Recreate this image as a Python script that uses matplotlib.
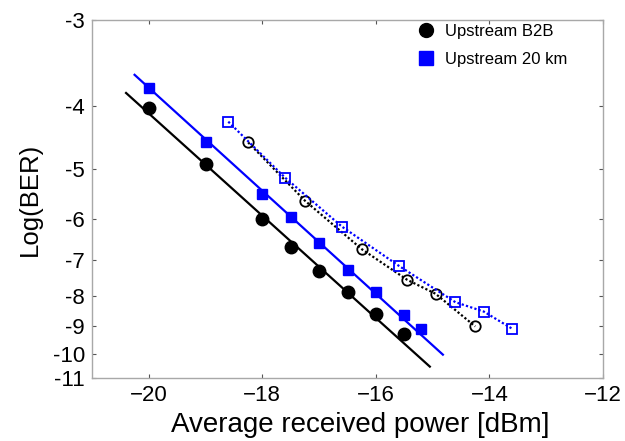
import math
import numpy as np
import matplotlib
matplotlib.use("Agg")
import matplotlib.pyplot as plt
from matplotlib.lines import Line2D
from matplotlib.ticker import NullLocator, FixedLocator, FixedFormatter

plt.rcParams['font.family'] = ['Liberation Sans', 'DejaVu Sans']

# ---- data (log10 BER vs received power in dBm) ----
b2b_x = [-20, -19, -18, -17.5, -17, -16.5, -16, -15.5]
b2b_y = [-4.03, -4.92, -6.0, -6.66, -7.28, -7.89, -8.57, -9.27]
km20_x = [-20, -19, -18, -17.5, -17, -16.5, -16, -15.5, -15.2]
km20_y = [-3.77, -4.54, -5.48, -5.96, -6.56, -7.25, -7.89, -8.6, -9.08]
b2b_fit_x = [-20.4, -15.05]
b2b_fit_y = [-3.83, -10.52]
km20_fit_x = [-20.25, -14.82]
km20_fit_y = [-3.60, -10.04]
b2b_open_x = [-18.25, -17.25, -16.25, -15.45, -14.95, -14.25]
b2b_open_y = [-4.55, -5.61, -6.71, -7.53, -7.94, -9.0]
km20_open_x = [-18.6, -17.6, -16.6, -15.6, -14.6, -14.1, -13.6]
km20_open_y = [-4.23, -5.16, -6.17, -7.14, -8.2, -8.5, -9.08]

x_ticks = [-20, -18, -16, -14, -12]
y_ticks = [-3, -4, -5, -6, -7, -8, -9, -10, -11]
y_tick_labels = [str(v) for v in y_ticks]
legend_labels = ["Upstream B2B", "Upstream 20 km"]

# ---- Q-factor (dB) scale for log10(BER) ----
_erfc = np.vectorize(math.erfc, otypes=[float])


def _log10ber_from_q(q):
    q = np.asarray(q, float)
    return np.log10(np.maximum(0.5 * _erfc(q / math.sqrt(2.0)), 1e-300))


def forward(v):
    v = np.clip(np.asarray(v, float), -250.0, -0.31)
    lo = np.full_like(v, 1e-3)
    hi = np.full_like(v, 34.0)
    for _ in range(55):
        mid = 0.5 * (lo + hi)
        val = _log10ber_from_q(mid)
        m = val > v
        lo = np.where(m, mid, lo)
        hi = np.where(m, hi, mid)
    q = 0.5 * (lo + hi)
    return -20.0 * np.log10(q)


def inverse(u):
    u = np.asarray(u, float)
    q = np.clip(10.0 ** (-u / 20.0), 1e-3, 34.0)
    return _log10ber_from_q(q)


fig = plt.figure(figsize=(6.25, 4.41), dpi=100)
ax = fig.add_axes([92 / 625, 1 - 378 / 441, 511 / 625, 358 / 441])
ax.set_yscale('function', functions=(forward, inverse))

blue = '#0000ff'
ax.plot(b2b_fit_x, b2b_fit_y, color='black', lw=1.6)
ax.plot(km20_fit_x, km20_fit_y, color=blue, lw=1.6)
ax.plot(b2b_x, b2b_y, 'o', color='black', ms=9, mec='black')
ax.plot(km20_x, km20_y, 's', color=blue, ms=6.8, mec=blue)
ax.plot(b2b_open_x, b2b_open_y, color='black', ls=(0, (1, 1)), lw=1.6,
        marker='o', ms=7.5, mfc='none', mec='black', mew=1.3)
ax.plot(km20_open_x, km20_open_y, color=blue, ls=(0, (1, 1)), lw=1.6,
        marker='s', ms=7, mfc='none', mec=blue, mew=1.3)

ax.set_xlim(-21, -12)
ax.set_ylim(-11, -3)
ax.xaxis.set_major_locator(FixedLocator(x_ticks))
ax.yaxis.set_major_locator(FixedLocator(y_ticks))
ax.yaxis.set_major_formatter(FixedFormatter(y_tick_labels))
ax.yaxis.set_minor_locator(NullLocator())
ax.xaxis.set_minor_locator(NullLocator())

for s in ax.spines.values():
    s.set_color('#a8a8a8')
    s.set_linewidth(1.0)
ax.tick_params(direction='in', length=3, width=0.8, color='#555555',
               labelsize=16, top=True, right=True, pad=5)

ax.set_xlabel("Average received power [dBm]", fontsize=20)
ax.xaxis.set_label_coords(0.524, -0.095)
ax.set_ylabel("Log(BER)", fontsize=18.5, labelpad=8)

handles = [Line2D([], [], ls='none', marker='o', color='black', ms=10),
           Line2D([], [], ls='none', marker='s', color=blue, ms=10)]
ax.legend(handles, legend_labels, loc='upper left',
          bbox_to_anchor=(0.638, 0.99), frameon=False, fontsize=12,
          handlelength=1.0, handletextpad=0.6, borderpad=0,
          labelspacing=0.8, borderaxespad=0)

fig.savefig("out.png", dpi=100)
